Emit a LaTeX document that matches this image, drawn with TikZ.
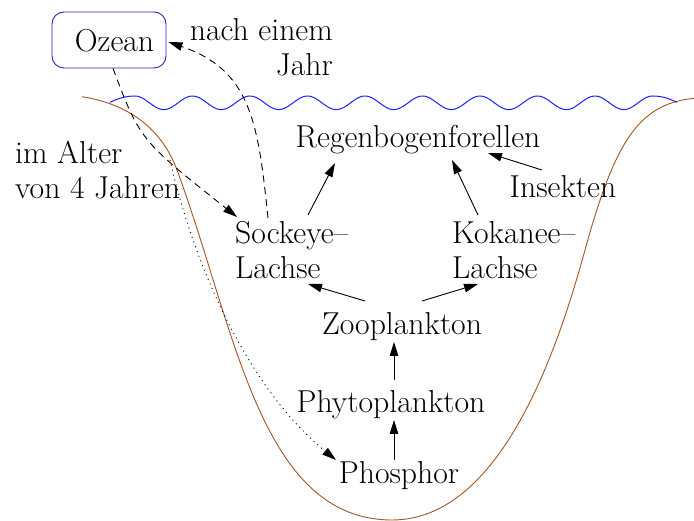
\documentclass[tikz,border=0pt]{standalone}
\usepackage{fontspec}
\usetikzlibrary{arrows.meta,calc}
\definecolor{lakebrown}{RGB}{165,85,35}
\definecolor{wavecol}{RGB}{30,30,255}
\definecolor{boxblue}{RGB}{40,40,190}
\begin{document}
\begin{tikzpicture}[x=1pt,y=-1pt,
  every node/.style={inner sep=0pt, font=\rmfamily\fontsize{31.7}{35}\selectfont},
  obox/.style={draw=boxblue, line width=0.9pt, rounded corners=12pt, minimum width=114pt, minimum height=56pt},
  arr/.style={-{Triangle[length=14pt,width=8.5pt]}, line width=0.9pt},
  dashline/.style={arr, dash pattern=on 7pt off 5pt},
  dotline/.style={arr, dash pattern=on 1pt off 4pt}]
\useasboundingbox (0,0) rectangle (694,521);

% lake outline and water surface
\draw[lakebrown, line width=0.9pt] (82,96.7) .. controls (132,104.5) and (163,132) .. (177,170)
  .. controls (236,330) and (260,520) .. (392,520)
  .. controls (502,520) and (558.6,346) .. (585,250)
  .. controls (615.8,138) and (640,104) .. (694,98.3);
\draw[wavecol, line width=1pt] (110,102.3) .. controls (118,98.5) and (126,96) .. (135,96)
  -- plot[domain=135:652.5, samples=240] (\x,{102.8-6.8*cos(6.26087*(\x-135))})
  .. controls (663,96) and (670,99) .. (677,102.3);

% nodes
\node[obox] (ozean) at (109,40) {};
\node[anchor=base] (ozeantxt) at (114.5,52) {Ozean};
\node[anchor=north east, align=right] (jahr) at (333,18) {nach einem\\Jahr};
\node[anchor=north west, align=left] (alter) at (15,141) {im Alter\\von 4 Jahren};
\node[anchor=base] (reg) at (418,148) {Regenbogenforellen};
\node[anchor=base] (ins) at (563,198) {Insekten};
\node[anchor=north west, align=left] (sock) at (235,221) {Sockeye--\\Lachse};
\node[anchor=north west, align=left] (kok) at (452,221) {Kokanee--\\Lachse};
\node[anchor=base] (zoo) at (402,335) {Zooplankton};
\node[anchor=base] (phyto) at (391,413) {Phytoplankton};
\node[anchor=base] (phos) at (399,483) {Phosphor};
\coordinate (fork) at (170,160);

% food web arrows
\draw[arr] ($(sock.north west)+(73,-6)$) -- ($(reg.base)+(-83,15)$);
\draw[arr] ($(kok.north west)+(26,-6)$) -- ($(reg.base)+(34,12)$);
\draw[arr] ($(ins.base)+(-21,-28)$) -- ($(reg.base)+(70,5)$);
\draw[arr] ($(zoo.base)+(-37,-34)$) -- ($(sock.north west)+(73,63)$);
\draw[arr] ($(zoo.base)+(20,-34)$) -- ($(kok.north west)+(26,63)$);
\draw[arr] ($(phyto.base)+(3,-33)$) -- ($(zoo.base)+(-8,7)$);
\draw[arr] ($(phos.base)+(-5,-23)$) -- ($(phyto.base)+(3,7)$);

% migration
\draw[dashline] ($(ozean.south)+(4,0)$) .. controls (140,140) .. ($(sock.north west)+(2,-4)$);
\draw[dashline] ($(sock.north west)+(33,-3)$) .. controls (258,120) and (250,70) .. ($(ozean.east)+(2,2)$);
\draw[dotline] (fork) .. controls (195,270) and (250,390) .. ($(phos.base)+(-63,-23)$);
\end{tikzpicture}
\end{document}
